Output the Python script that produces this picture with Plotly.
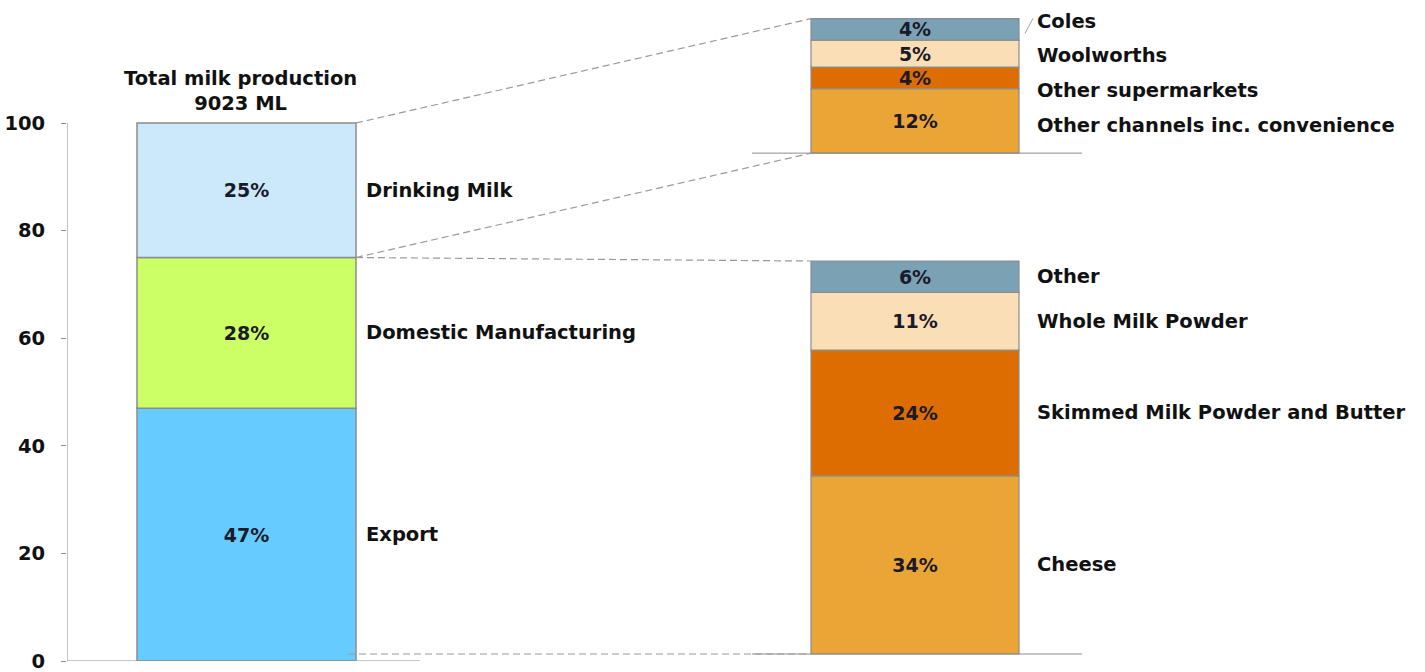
import plotly.graph_objects as go
import numpy as np

# ---------------- data ----------------
main_categories = ["Export", "Domestic Manufacturing", "Drinking Milk"]
main_shares = [47, 28, 25]
main_colors = ["#66CCFF", "#CCFF66", "#CCE9FC"]

drink_categories = ["Other channels inc. convenience", "Other supermarkets", "Woolworths", "Coles"]
drink_shares = [12, 4, 5, 4]

manuf_categories = ["Cheese", "Skimmed Milk Powder and Butter", "Whole Milk Powder", "Other"]
manuf_shares = [34, 24, 11, 6]

sub_colors = ["#EBA536", "#DD6D00", "#F9DEB6", "#7BA1B5"]

y_tick_values = [0, 20, 40, 60, 80, 100]
title_lines = ["Total milk production", "9023 ML"]

# ---------------- layout constants ----------------
FIG_W, FIG_H = 1425, 672
M_L, M_R, M_T, M_B = 67, 0, 5, 11
PLOT_W = FIG_W - M_L - M_R
PLOT_H = FIG_H - M_T - M_B
PX_PER_UNIT = 5.38
Y1_MAX = PLOT_H / PX_PER_UNIT
Y2_RANGE = [-1.336, 123.86]

LEFT_X, LEFT_W = 179.5, 219
RIGHT_X, RIGHT_W = 848, 208
DRINK_BASE = 94.4
LABEL_STEP = 6.45

FONT = "DejaVu Sans"
WEIGHT = "bold"
TXT = "#111111"
EDGE = "#8C8C8C"
DASH = "#9A9A9A"
FS = 19.5
FS_BAR = 19


def y2_to_y1(v):
    return (v - Y2_RANGE[0]) / (Y2_RANGE[1] - Y2_RANGE[0]) * Y1_MAX


def bases(vals, start=0):
    c = np.cumsum([0] + list(vals))[:-1]
    return [start + float(b) for b in c]


def fnt(color=TXT, size=FS):
    return dict(family=FONT, size=size, color=color, weight=WEIGHT)


main_base = bases(main_shares)
drink_base = bases(drink_shares, DRINK_BASE)
manuf_base = bases(manuf_shares)

fig = go.Figure()

common = dict(
    textposition="inside", insidetextanchor="middle", textangle=0,
    textfont=fnt("#1A1A2A", FS_BAR),
    hoverinfo="skip", showlegend=False,
)

fig.add_trace(go.Bar(
    x=[LEFT_X] * len(main_shares), y=main_shares, base=main_base, width=LEFT_W,
    marker=dict(color=main_colors, line=dict(color=EDGE, width=1.5)),
    text=[f"{v}%" for v in main_shares], **common))

fig.add_trace(go.Bar(
    x=[RIGHT_X] * len(drink_shares), y=drink_shares, base=drink_base, width=RIGHT_W,
    marker=dict(color=sub_colors, line=dict(color=EDGE, width=1.2)),
    text=[f"{v}%" for v in drink_shares], **common))

fig.add_trace(go.Bar(
    x=[RIGHT_X] * len(manuf_shares), y=manuf_shares, base=manuf_base, width=RIGHT_W,
    marker=dict(color=sub_colors, line=dict(color=EDGE, width=1.2)),
    text=[f"{v}%" for v in manuf_shares], yaxis="y2", **common))

annotations = []
left_edge_r = LEFT_X + LEFT_W / 2
right_edge_l = RIGHT_X - RIGHT_W / 2
right_edge_r = RIGHT_X + RIGHT_W / 2

# main category labels
for cat, b, v in zip(main_categories, main_base, main_shares):
    annotations.append(dict(x=left_edge_r + 8, y=b + v / 2, xref="x", yref="y",
                            text=cat, showarrow=False, xanchor="left", yanchor="middle",
                            font=fnt()))

# drinking milk breakdown labels (evenly spaced)
drink_label_y = []
for i, cat in enumerate(drink_categories):
    yy = DRINK_BASE + 5.2 + LABEL_STEP * i
    drink_label_y.append(yy)
    annotations.append(dict(x=right_edge_r + 16, y=yy, xref="x", yref="y",
                            text=cat, showarrow=False, xanchor="left", yanchor="middle",
                            font=fnt()))

# manufacturing breakdown labels
for cat, b, v in zip(manuf_categories, manuf_base, manuf_shares):
    annotations.append(dict(x=right_edge_r + 16, y=b + v / 2, xref="x", yref="y2",
                            text=cat, showarrow=False, xanchor="left", yanchor="middle",
                            font=fnt()))

# title
annotations.append(dict(x=LEFT_X - 6, y=sum(main_shares), xref="x", yref="y",
                        text="<br>".join(title_lines), showarrow=False,
                        xanchor="center", yanchor="bottom", yshift=6,
                        font=fnt()))

total = sum(main_shares)
drink_top = DRINK_BASE + sum(drink_shares)
manuf_top_y1 = y2_to_y1(sum(manuf_shares))
manuf_bottom_y1 = y2_to_y1(0)
drink_start = main_base[2]

dash_line = dict(color=DASH, width=1.2, dash="7px,4px")
shapes = [
    # y axis line (0..100)
    dict(type="line", xref="x", yref="y", x0=0, x1=0, y0=0, y1=total,
         line=dict(color=EDGE, width=1)),
    # x axis line
    dict(type="line", xref="x", yref="y", x0=0, x1=left_edge_r + 64, y0=0, y1=0,
         line=dict(color=EDGE, width=1)),
    # right baselines
    dict(type="line", xref="x", yref="y", x0=right_edge_l - 59, x1=right_edge_r + 63,
         y0=DRINK_BASE, y1=DRINK_BASE, line=dict(color=EDGE, width=1)),
    dict(type="line", xref="x", yref="y2", x0=right_edge_l - 59, x1=right_edge_r + 63,
         y0=0, y1=0, line=dict(color=EDGE, width=1)),
    # dashed connectors
    dict(type="line", xref="x", yref="y", x0=left_edge_r, y0=total, x1=right_edge_l, y1=drink_top,
         line=dash_line),
    dict(type="line", xref="x", yref="y", x0=left_edge_r, y0=drink_start, x1=right_edge_l, y1=DRINK_BASE,
         line=dash_line),
    dict(type="line", xref="x", yref="y", x0=left_edge_r, y0=drink_start, x1=right_edge_l, y1=manuf_top_y1,
         line=dash_line),
    dict(type="line", xref="x", yref="y", x0=left_edge_r - 8, y0=manuf_bottom_y1, x1=right_edge_l - 3, y1=manuf_bottom_y1,
         line=dash_line),
    # Coles leader
    dict(type="line", xref="x", yref="y", x0=right_edge_r + 6, y0=drink_label_y[-1] - 2.3,
         x1=right_edge_r + 14, y1=drink_label_y[-1] + 0.5, line=dict(color="#A0A0A0", width=1)),
]

fig.update_layout(
    width=FIG_W, height=FIG_H,
    margin=dict(l=M_L, r=M_R, t=M_T, b=M_B),
    paper_bgcolor="white", plot_bgcolor="white",
    barmode="overlay",
    uniformtext=dict(minsize=FS_BAR, mode="show"),
    xaxis=dict(range=[0, PLOT_W], visible=False, fixedrange=True),
    yaxis=dict(range=[0, Y1_MAX], tickvals=y_tick_values, ticktext=[str(v) for v in y_tick_values],
               ticks="outside", ticklen=5, tickcolor=EDGE, tickwidth=1,
               showline=False, showgrid=False, zeroline=False,
               ticklabelstandoff=12, ticklabeloverflow="allow",
               tickfont=fnt()),
    yaxis2=dict(range=Y2_RANGE, overlaying="y", visible=False, showgrid=False, zeroline=False),
    annotations=annotations,
    shapes=shapes,
    font=dict(family=FONT, color=TXT),
)

fig.write_html("out.html")
